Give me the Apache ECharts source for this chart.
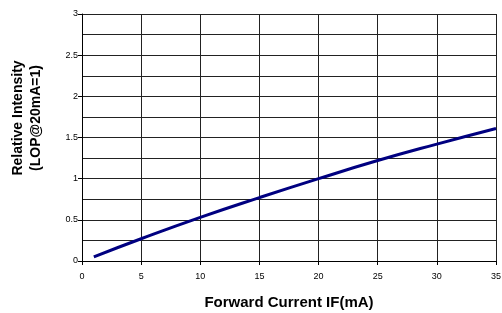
<!DOCTYPE html>
<html>
<head>
<meta charset="utf-8">
<script src="https://cdn.jsdelivr.net/npm/echarts@6/dist/echarts.min.js"></script>
<style>
  html, body { margin: 0; padding: 0; background: #fff; }
  #chart { width: 502px; height: 313px; }
</style>
</head>
<body>
<div id="chart"></div>
<script>
// forward current (mA) and relative intensity
var currentMA = [1, 5, 10, 15, 20, 25, 30, 35];
var relIntensity = [0.05, 0.27, 0.53, 0.77, 1.0, 1.22, 1.42, 1.61];

var xTitle = 'Forward Current IF(mA)';
var yTitle = 'Relative Intensity\n(LOP@20mA=1)';

var chart = echarts.init(document.getElementById('chart'));

var option = {
  animation: false,
  backgroundColor: '#fff',
  grid: { left: 82, right: 6, top: 14, bottom: 52, outerBoundsMode: 'none', containLabel: false },
  xAxis: {
    type: 'value',
    min: 0, max: 35, interval: 5,
    name: xTitle,
    nameLocation: 'middle',
    nameGap: 34,
    nameTextStyle: { fontFamily: 'Liberation Sans', fontWeight: 'bold', fontSize: 15, color: '#000' },
    axisLine: { show: true, lineStyle: { color: '#000', width: 1 } },
    axisTick: { show: true, length: 4, lineStyle: { color: '#000' } },
    axisLabel: { fontFamily: 'Liberation Sans', fontSize: 9, color: '#000', margin: 11 },
    splitLine: { show: true, lineStyle: { color: '#222', width: 1 } }
  },
  yAxis: {
    type: 'value',
    min: 0, max: 3, interval: 0.5,
    axisLine: { show: true, lineStyle: { color: '#000', width: 1 } },
    axisTick: { show: true, length: 4, lineStyle: { color: '#000' } },
    axisLabel: { fontFamily: 'Liberation Sans', fontSize: 9, color: '#000', margin: 4 },
    splitLine: { show: true, lineStyle: { color: '#222', width: 1 } },
    minorTick: { show: false, splitNumber: 2 },
    minorSplitLine: { show: true, lineStyle: { color: '#222', width: 1 } }
  },
  graphic: [{
    type: 'text',
    x: 27, y: 118,
    rotation: Math.PI / 2,
    style: {
      text: yTitle,
      fontFamily: 'Liberation Sans',
      fontWeight: 'bold',
      fontSize: 14,
      lineHeight: 18,
      fill: '#000',
      align: 'center',
      verticalAlign: 'middle'
    }
  }],
  series: [{
    type: 'line',
    smooth: true,
    symbol: 'none',
    data: currentMA.map(function (c, i) { return [c, relIntensity[i]]; }),
    lineStyle: { color: '#000080', width: 3 }
  }]
};

chart.setOption(option);
</script>
</body>
</html>
